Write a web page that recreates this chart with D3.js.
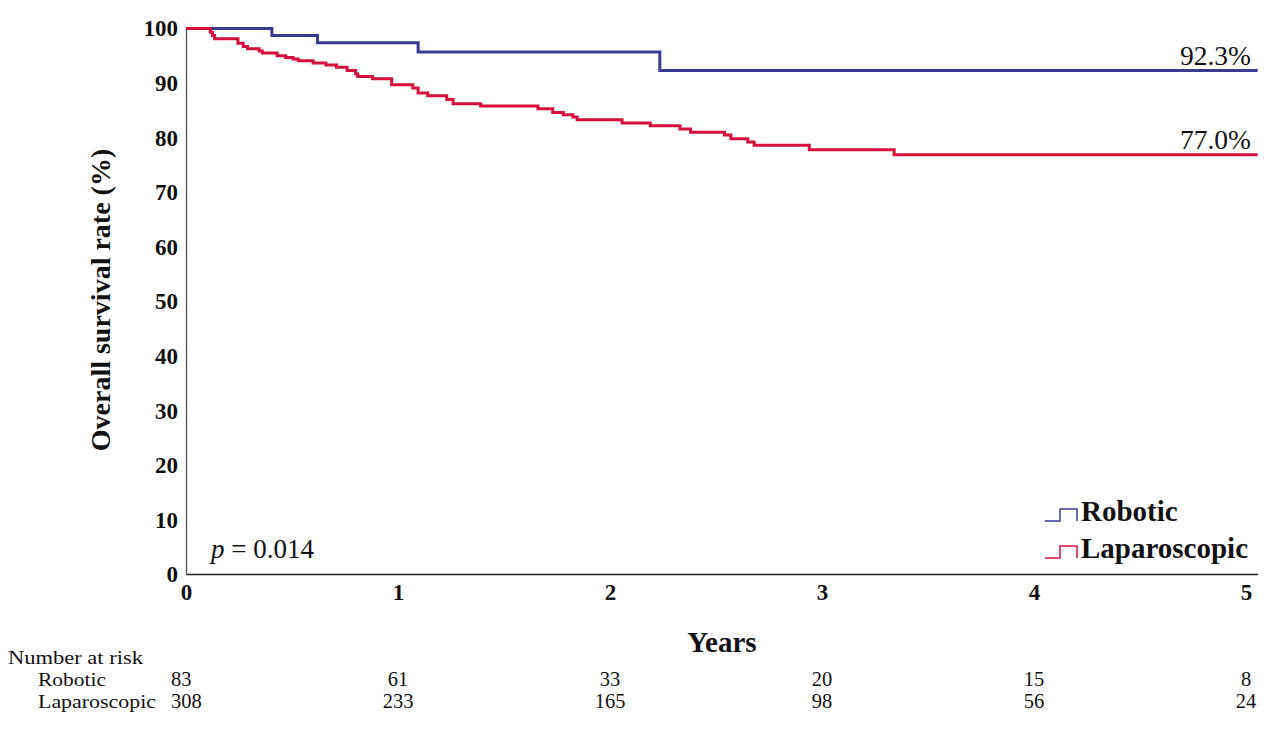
<!DOCTYPE html>
<html>
<head>
<meta charset="utf-8">
<script src="https://cdn.jsdelivr.net/npm/d3@7"></script>
<style>
  body { margin: 0; background: #fff; }
  svg text { font-family: "Liberation Serif", "DejaVu Serif", serif; fill: #111; }
</style>
</head>
<body>
<svg id="chart" width="1271" height="730"></svg>
<script>
// Kaplan-Meier steps (years, survival %)
var roboticTimes = [0, 0.405, 0.62, 1.095, 2.235, 5.055]
var roboticSurv  = [100, 98.7, 97.4, 95.7, 92.3, 92.3]

var laparoTimes = [0, 0.115, 0.125, 0.135, 0.245, 0.27, 0.29, 0.345, 0.36, 0.43, 0.47, 0.505, 0.53, 0.6, 0.66,
                   0.71, 0.76, 0.8, 0.81, 0.88, 0.97, 1.07, 1.095, 1.14, 1.23, 1.26, 1.39, 1.66, 1.73, 1.78,
                   1.825, 1.845, 2.057, 2.19, 2.33, 2.38, 2.54, 2.57, 2.65, 2.68, 2.94, 3.34, 5.055]
var laparoSurv  = [100, 99.3, 98.7, 98.1, 97.3, 96.7, 96.3, 95.9, 95.5, 95.0, 94.7, 94.4, 94.1, 93.7, 93.3,
                   92.9, 92.3, 91.7, 91.2, 90.8, 89.7, 89.1, 88.2, 87.7, 87.0, 86.2, 85.8, 85.3, 84.6, 84.2,
                   83.8, 83.3, 82.7, 82.2, 81.6, 81.0, 80.5, 79.8, 79.2, 78.6, 77.8, 76.9, 76.9]

var xTicks = [0, 1, 2, 3, 4, 5]
var yTicks = [0, 10, 20, 30, 40, 50, 60, 70, 80, 90, 100]

var riskGroups = ["Robotic", "Laparoscopic"]
var riskRobotic = [83, 61, 33, 20, 15, 8]
var riskLaparo  = [308, 233, 165, 98, 56, 24]

var endLabels = ["92.3%", "77.0%"]
var pValue = "0.014"

var blue = "#3a3a95"
var red = "#d5103c"

var svg = d3.select("#chart")

var x = d3.scaleLinear().domain([0, 5]).range([186, 1246])
var y = d3.scaleLinear().domain([0, 100]).range([574.5, 28.5])

// axes
var xAxis = d3.axisBottom(x).tickValues(xTicks).tickSize(0).tickPadding(9).tickFormat(d3.format("d"))
var gx = svg.append("g").attr("transform", "translate(0," + y(0) + ")").call(xAxis)
gx.select(".domain").attr("d", "M" + x(0) + ",0H" + x(5.057)).attr("stroke", "#222").attr("stroke-width", 1.3)
gx.selectAll("text").attr("font-size", 23).attr("font-weight", "bold")
  .style("font-family", "'Liberation Serif', serif").attr("fill", "#111")

var yAxis = d3.axisLeft(y).tickValues(yTicks).tickSize(0).tickPadding(8)
var gy = svg.append("g").attr("transform", "translate(" + x(0) + ",0)").call(yAxis)
gy.select(".domain").attr("stroke", "#555").attr("stroke-width", 1.3)
gy.selectAll("text").attr("font-size", 23).attr("font-weight", "bold")
  .style("font-family", "'Liberation Serif', serif").attr("fill", "#111")

svg.append("text")
  .attr("transform", "translate(110,300) rotate(-90)")
  .attr("text-anchor", "middle")
  .attr("font-size", 28).attr("font-weight", "bold")
  .text("Overall survival rate (%)")

svg.append("text")
  .attr("x", 722).attr("y", 652)
  .attr("text-anchor", "middle")
  .attr("font-size", 29).attr("font-weight", "bold")
  .text("Years")

// curves
var line = d3.line()
  .x(function(d) { return x(d[0]) })
  .y(function(d) { return y(d[1]) })
  .curve(d3.curveStepAfter)

var laparoData = d3.zip(laparoTimes, laparoSurv)
var roboticData = d3.zip(roboticTimes, roboticSurv)

svg.append("path").datum(laparoData)
  .attr("d", line).attr("fill", "none").attr("stroke", red).attr("stroke-width", 3)
svg.append("path").datum(roboticData)
  .attr("d", line).attr("fill", "none").attr("stroke", blue).attr("stroke-width", 3)
// red sits on top at the start, where both are at 100%
svg.append("path").datum(laparoData.slice(0, 2))
  .attr("d", line).attr("fill", "none").attr("stroke", red).attr("stroke-width", 3)

// end labels
svg.append("text").attr("x", 1251).attr("y", y(roboticSurv[roboticSurv.length - 1]) - 6)
  .attr("text-anchor", "end").attr("font-size", 27.5).text(endLabels[0])
svg.append("text").attr("x", 1251).attr("y", y(laparoSurv[laparoSurv.length - 1]) - 6)
  .attr("text-anchor", "end").attr("font-size", 27.5).text(endLabels[1])

// p value
var pt = svg.append("text").attr("x", 211).attr("y", 558).attr("font-size", 27)
pt.append("tspan").attr("font-style", "italic").text("p")
pt.append("tspan").text(" = " + pValue)

// legend
var legendColors = [blue, red]
var legend = svg.selectAll(".leg").data(riskGroups).enter().append("g")
  .attr("class", "leg")
  .attr("transform", function(d, i) { return "translate(1045," + (521 + i * 37) + ")" })
legend.append("path")
  .attr("d", "M0,0H15V-12H32V0")
  .attr("fill", "none")
  .attr("stroke", function(d, i) { return legendColors[i] })
  .attr("stroke-width", 1.5)
legend.append("text")
  .attr("x", 36).attr("y", 0)
  .attr("font-size", 29).attr("font-weight", "bold")
  .text(function(d) { return d })

// number at risk table (slightly stretched to match the wider original face)
var labelWidths = [68, 118]
svg.append("text").attr("x", 8).attr("y", 664).attr("font-size", 19.5)
  .attr("textLength", 135).attr("lengthAdjust", "spacingAndGlyphs")
  .text("Number at risk")
var riskRows = [riskRobotic, riskLaparo]
riskRows.forEach(function(row, r) {
  var yy = 686 + r * 22
  svg.append("text").attr("x", 38).attr("y", yy).attr("font-size", 19.5)
    .attr("textLength", labelWidths[r]).attr("lengthAdjust", "spacingAndGlyphs")
    .text(riskGroups[r])
  svg.selectAll(".risk" + r).data(row).enter().append("text")
    .attr("x", function(d, i) { return i === 0 ? 171 : x(xTicks[i]) })
    .attr("y", yy)
    .attr("text-anchor", function(d, i) { return i === 0 ? "start" : "middle" })
    .attr("font-size", 20.5)
    .text(function(d) { return d })
})
</script>
</body>
</html>
